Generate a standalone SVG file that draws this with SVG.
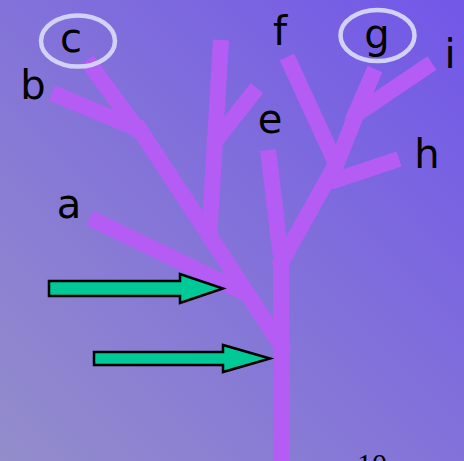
<svg xmlns="http://www.w3.org/2000/svg" width="464" height="461" viewBox="0 0 464 461">
<defs>
<linearGradient id="bg" x1="0" y1="461" x2="464" y2="0" gradientUnits="userSpaceOnUse">
<stop offset="0" stop-color="#938dcb"/>
<stop offset="1" stop-color="#7257e8"/>
</linearGradient>
</defs>
<style>
.br{stroke:#b55cf5;stroke-width:16;fill:none;stroke-linecap:butt;stroke-linejoin:miter}
.lbl{font-family:"DejaVu Sans",sans-serif;font-size:40px;fill:#000;text-anchor:middle}
.ring{fill:none;stroke:#d2d2f7;stroke-width:4.5}
.arr{fill:#00c896;stroke:#000;stroke-width:2.5;stroke-linejoin:miter}
</style>
<rect width="464" height="461" fill="url(#bg)"/>
<g id="connectors">
<line class="br" x1="281" y1="461" x2="281" y2="258"/>
<line class="br" x1="268" y1="150" x2="282" y2="266"/>
<line class="br" x1="278" y1="268" x2="336" y2="164"/>
<line class="br" x1="287" y1="57" x2="338" y2="168"/>
<line class="br" x1="331" y1="178" x2="358" y2="110"/>
<line class="br" x1="330" y1="182" x2="399" y2="159"/>
<line class="br" x1="375" y1="69" x2="352" y2="122"/>
<line class="br" x1="432" y1="63" x2="352" y2="117"/>
<line class="br" x1="285" y1="351" x2="136" y2="124"/>
<line class="br" x1="52" y1="93" x2="141" y2="130"/>
<line class="br" x1="87" y1="60" x2="140" y2="133"/>
<line class="br" x1="221" y1="40" x2="209" y2="240"/>
<line class="br" x1="257" y1="88" x2="212" y2="145"/>
<line class="br" x1="90" y1="218" x2="245" y2="293"/>
</g>
<g id="arrow1"><polygon class="arr" points="49,281 180,281 180,274 223,288.5 180,303 180,296 49,296"/></g>
<g id="arrow2"><polygon class="arr" points="94,352 223,352 223,345 270,358.5 223,372 223,365 94,365"/></g>
<g id="node-a"><text class="lbl" x="69" y="218">a</text></g>
<g id="node-b"><text class="lbl" x="33" y="99">b</text></g>
<g id="node-c"><ellipse class="ring" cx="78" cy="41" rx="37" ry="25.5"/><text class="lbl" x="71" y="52">c</text></g>
<g id="node-e"><text class="lbl" x="270" y="133">e</text></g>
<g id="node-f"><text class="lbl" x="280" y="45">f</text></g>
<g id="node-g"><ellipse class="ring" cx="377.5" cy="35.5" rx="37" ry="25.5"/><text class="lbl" x="377" y="48">g</text></g>
<g id="node-h"><text class="lbl" x="427" y="168">h</text></g>
<g id="node-i"><text class="lbl" x="450" y="68">i</text></g>
<text x="372" y="474" font-family="Liberation Serif, serif" font-size="30" text-anchor="middle" fill="#000">10</text>
</svg>
